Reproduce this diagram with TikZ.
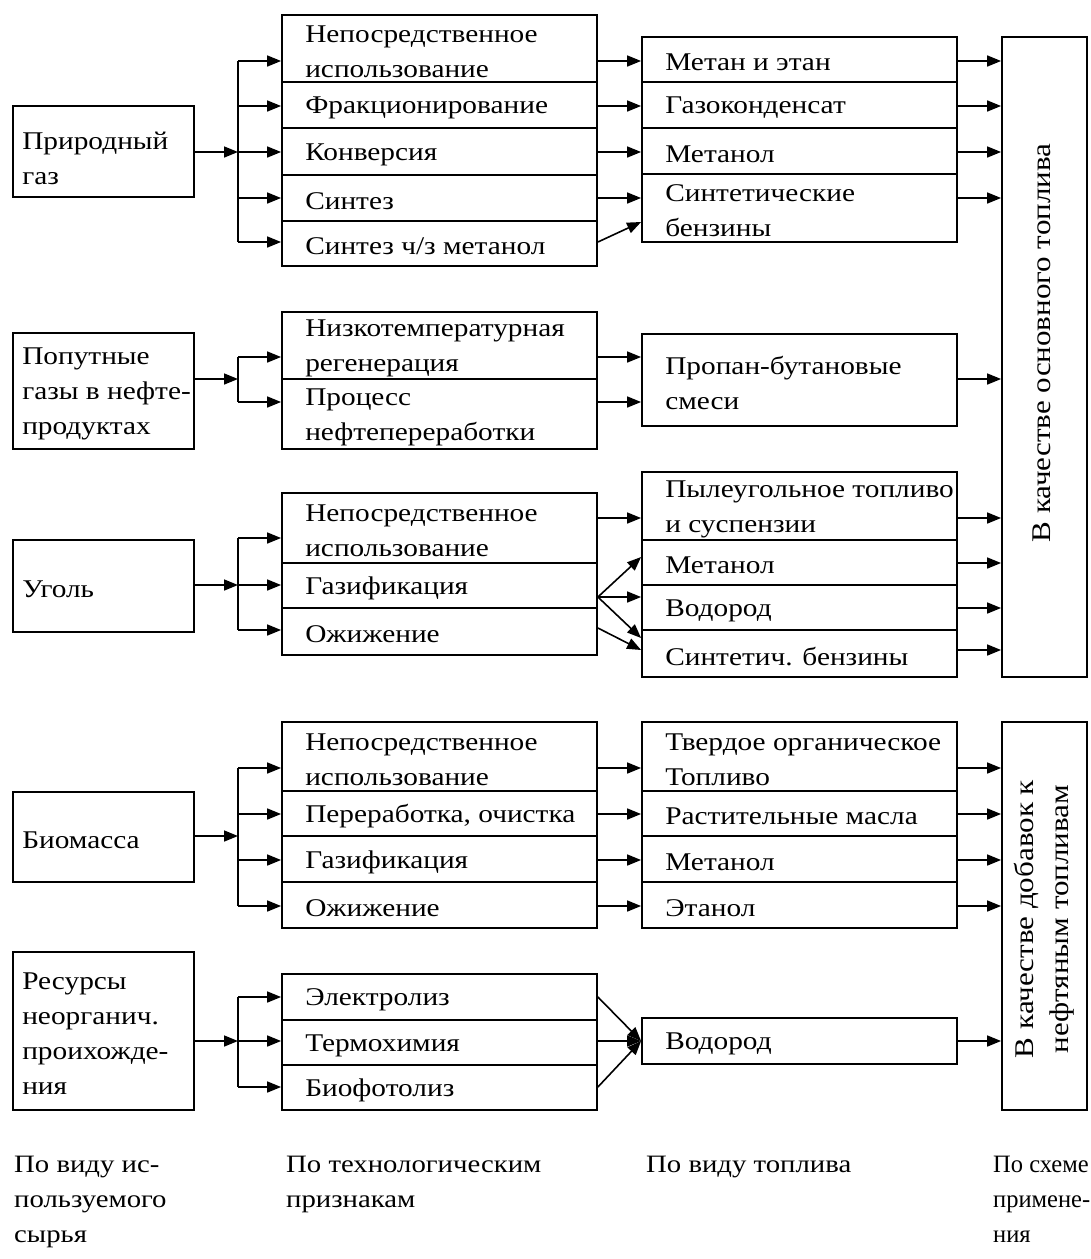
\documentclass[tikz,border=0pt]{standalone}
\usepackage{fontspec}
\setmainfont{Liberation Serif}[FakeStretch=1.15]
\newfontfamily\narrowfont{Liberation Serif}[FakeStretch=0.98]
\usetikzlibrary{arrows.meta}
\tikzset{
  box/.style={draw, line width=1.8pt, inner sep=0pt},
  txt/.style={anchor=west, align=left, inner sep=0pt, yshift=-3pt, font=\fontsize{25.5}{35}\selectfont},
  lab/.style={anchor=north west, align=left, inner sep=0pt, font=\fontsize{25}{35}\selectfont},
  bigtxt/.style={rotate=90, align=center, inner sep=0pt, font=\fontsize{27}{35}\selectfont},
  arr/.style={line width=1.6pt, -{Triangle[length=14pt,width=11pt]}},
  ln/.style={line width=1.6pt},
}
\newcommand\mkbox[7]{%
  \pgfmathsetmacro\bw{#4-#2}%
  \pgfmathsetmacro\bh{#5-#3}%
  \pgfmathsetmacro\bx{(#2+#4)/2}%
  \pgfmathsetmacro\by{(#3+#5)/2}%
  \node[box,minimum width=\bw pt,minimum height=\bh pt] (#1) at (\bx,\by) {};
  \node[txt] (#1t) at ([xshift=#6pt]#1.west) {#7};
}
\begin{document}
\begin{tikzpicture}[x=1pt,y=-1pt]
\fill[white] (0,0) rectangle (1091,1259);
\useasboundingbox (0,0) rectangle (1091,1259);
\foreach \v in {61,106,152,198,222,242,357,379,402,518,538,557,585,597,628,630,638,650,563,608,768,814,836,860,906,997,1041,1087}{\coordinate (y\v) at (0,\v);}
\coordinate (T) at (238,0);

% ---------- Natural gas
\node[box,minimum width=181pt,minimum height=91pt] (sA) at (103.5,151.5) {};
\node[txt,yshift=-4pt] (sAt) at ([xshift=10pt]sA.west) {Природный\\газ};
\mkbox{tA1}{282}{15}{597}{82}{24}{Непосредственное\\использование}
\mkbox{tA2}{282}{82}{597}{128}{24}{Фракционирование}
\mkbox{tA3}{282}{128}{597}{175}{24}{Конверсия}
\mkbox{tA4}{282}{175}{597}{221}{24}{Синтез}
\mkbox{tA5}{282}{221}{597}{266}{24}{Синтез ч/з метанол}
\mkbox{fA1}{642}{37}{957}{82}{24}{Метан и этан}
\mkbox{fA2}{642}{82}{957}{128}{24}{Газоконденсат}
\mkbox{fA3}{642}{128}{957}{174}{24}{Метанол}
\mkbox{fA4}{642}{174}{957}{242}{24}{Синтетические\\бензины}
\node[box,minimum width=85pt,minimum height=640pt] (big1) at (1044.5,357) {};
\node[bigtxt] (big1t) at ([xshift=-3pt,yshift=14pt]big1.center) {В качестве основного топлива};

\draw[ln] (T |- y61) -- (T |- y242);
\draw[arr] (sA.east |- y152) -- (T |- y152);
\foreach \n/\v in {1/61,2/106,3/152,4/198,5/242} \draw[arr] (T |- y\v) -- (tA\n.west |- y\v);
\foreach \n/\v in {1/61,2/106,3/152,4/198} {
  \draw[arr] (tA\n.east |- y\v) -- (fA\n.west |- y\v);
  \draw[arr] (fA\n.east |- y\v) -- (big1.west |- y\v);
}
\draw[arr] (tA5.east |- y242) -- (fA4.west |- y222);

% ---------- Associated gases
\mkbox{sB}{13}{333}{194}{449}{10}{Попутные\\газы в нефте-\\продуктах}
\mkbox{tB1}{282}{312}{597}{379}{24}{Низкотемпературная\\регенерация}
\mkbox{tB2}{282}{379}{597}{449}{24}{Процесс\\нефтепереработки}
\mkbox{fB}{642}{334}{957}{426}{24}{Пропан-бутановые\\смеси}
\draw[ln] (T |- y357) -- (T |- y402);
\draw[arr] (sB.east |- y379) -- (T |- y379);
\draw[arr] (T |- y357) -- (tB1.west |- y357);
\draw[arr] (T |- y402) -- (tB2.west |- y402);
\draw[arr] (tB1.east |- y357) -- (fB.west |- y357);
\draw[arr] (tB2.east |- y402) -- (fB.west |- y402);
\draw[arr] (fB.east |- y379) -- (big1.west |- y379);

% ---------- Coal
\mkbox{sC}{13}{540}{194}{632}{10}{Уголь}
\mkbox{tC1}{282}{493}{597}{563}{24}{Непосредственное\\использование}
\mkbox{tC2}{282}{563}{597}{608}{24}{Газификация}
\mkbox{tC3}{282}{608}{597}{655}{24}{Ожижение}
\mkbox{fC1}{642}{472}{957}{540}{24}{Пылеугольное топливо\\и суспензии}
\mkbox{fC2}{642}{540}{957}{585}{24}{Метанол}
\mkbox{fC3}{642}{585}{957}{630}{24}{Водород}
\mkbox{fC4}{642}{630}{957}{677}{24}{Синтетич. бензины}
\draw[ln] (T |- y538) -- (T |- y630);
\draw[arr] (sC.east |- y585) -- (T |- y585);
\draw[arr] (T |- y538) -- (tC1.west |- y538);
\draw[arr] (T |- y585) -- (tC2.west |- y585);
\draw[arr] (T |- y630) -- (tC3.west |- y630);
\draw[arr] (tC1.east |- y518) -- (fC1.west |- y518);
\draw[arr] (tC2.east |- y597) -- (fC2.west |- y557);
\draw[arr] (tC2.east |- y597) -- (fC3.west |- y597);
\draw[arr] (tC2.east |- y597) -- (fC4.west |- y638);
\draw[arr] (tC3.east |- y628) -- (fC4.west |- y650);
\draw[arr] (fC1.east |- y518) -- (big1.west |- y518);
\draw[arr] (fC2.east |- y563) -- (big1.west |- y563);
\draw[arr] (fC3.east |- y608) -- (big1.west |- y608);
\draw[arr] (fC4.east |- y650) -- (big1.west |- y650);

% ---------- Biomass
\mkbox{sD}{13}{792}{194}{882}{10}{Биомасса}
\mkbox{tD1}{282}{722}{597}{791}{24}{Непосредственное\\использование}
\mkbox{tD2}{282}{791}{597}{836}{24}{Переработка, очистка}
\mkbox{tD3}{282}{836}{597}{882}{24}{Газификация}
\mkbox{tD4}{282}{882}{597}{928}{24}{Ожижение}
\mkbox{fD1}{642}{722}{957}{791}{24}{Твердое органическое\\Топливо}
\mkbox{fD2}{642}{791}{957}{836}{24}{Растительные масла}
\mkbox{fD3}{642}{836}{957}{882}{24}{Метанол}
\mkbox{fD4}{642}{882}{957}{928}{24}{Этанол}
\node[box,minimum width=85pt,minimum height=388pt] (big2) at (1044.5,916) {};
\node[bigtxt] (big2t) at ([yshift=-3pt]big2.center) {В качестве добавок к\\нефтяным топливам};
\draw[ln] (T |- y768) -- (T |- y906);
\draw[arr] (sD.east |- y836) -- (T |- y836);
\foreach \n/\v in {1/768,2/814,3/860,4/906} {
  \draw[arr] (T |- y\v) -- (tD\n.west |- y\v);
  \draw[arr] (tD\n.east |- y\v) -- (fD\n.west |- y\v);
  \draw[arr] (fD\n.east |- y\v) -- (big2.west |- y\v);
}

% ---------- Inorganic resources
\mkbox{sE}{13}{952}{194}{1110}{10}{Ресурсы\\неорганич.\\проихожде-\\ния}
\mkbox{tE1}{282}{974}{597}{1020}{24}{Электролиз}
\mkbox{tE2}{282}{1020}{597}{1065}{24}{Термохимия}
\mkbox{tE3}{282}{1065}{597}{1110}{24}{Биофотолиз}
\mkbox{fE}{642}{1018}{957}{1064}{24}{Водород}
\draw[ln] (T |- y997) -- (T |- y1087);
\draw[arr] (sE.east |- y1041) -- (T |- y1041);
\draw[arr] (T |- y997) -- (tE1.west |- y997);
\draw[arr] (T |- y1041) -- (tE2.west |- y1041);
\draw[arr] (T |- y1087) -- (tE3.west |- y1087);
\draw[arr] (tE1.east |- y997) -- (fE.west |- y1041);
\draw[arr] (tE2.east |- y1041) -- (fE.west |- y1041);
\draw[arr] (tE3.east |- y1087) -- (fE.west |- y1041);
\draw[arr] (fE.east |- y1041) -- (big2.west |- y1041);

% ---------- Column captions
\node[lab] (c1) at (14,1156) {По виду ис-\\пользуемого\\сырья};
\node[lab] (c2) at (286,1156) {По технологическим\\признакам};
\node[lab] (c3) at (646,1156) {По виду топлива};
\node[lab,font=\narrowfont\fontsize{25}{35}\selectfont] (c4) at (993,1156) {По схеме\\примене-\\ния};
\end{tikzpicture}
\end{document}
